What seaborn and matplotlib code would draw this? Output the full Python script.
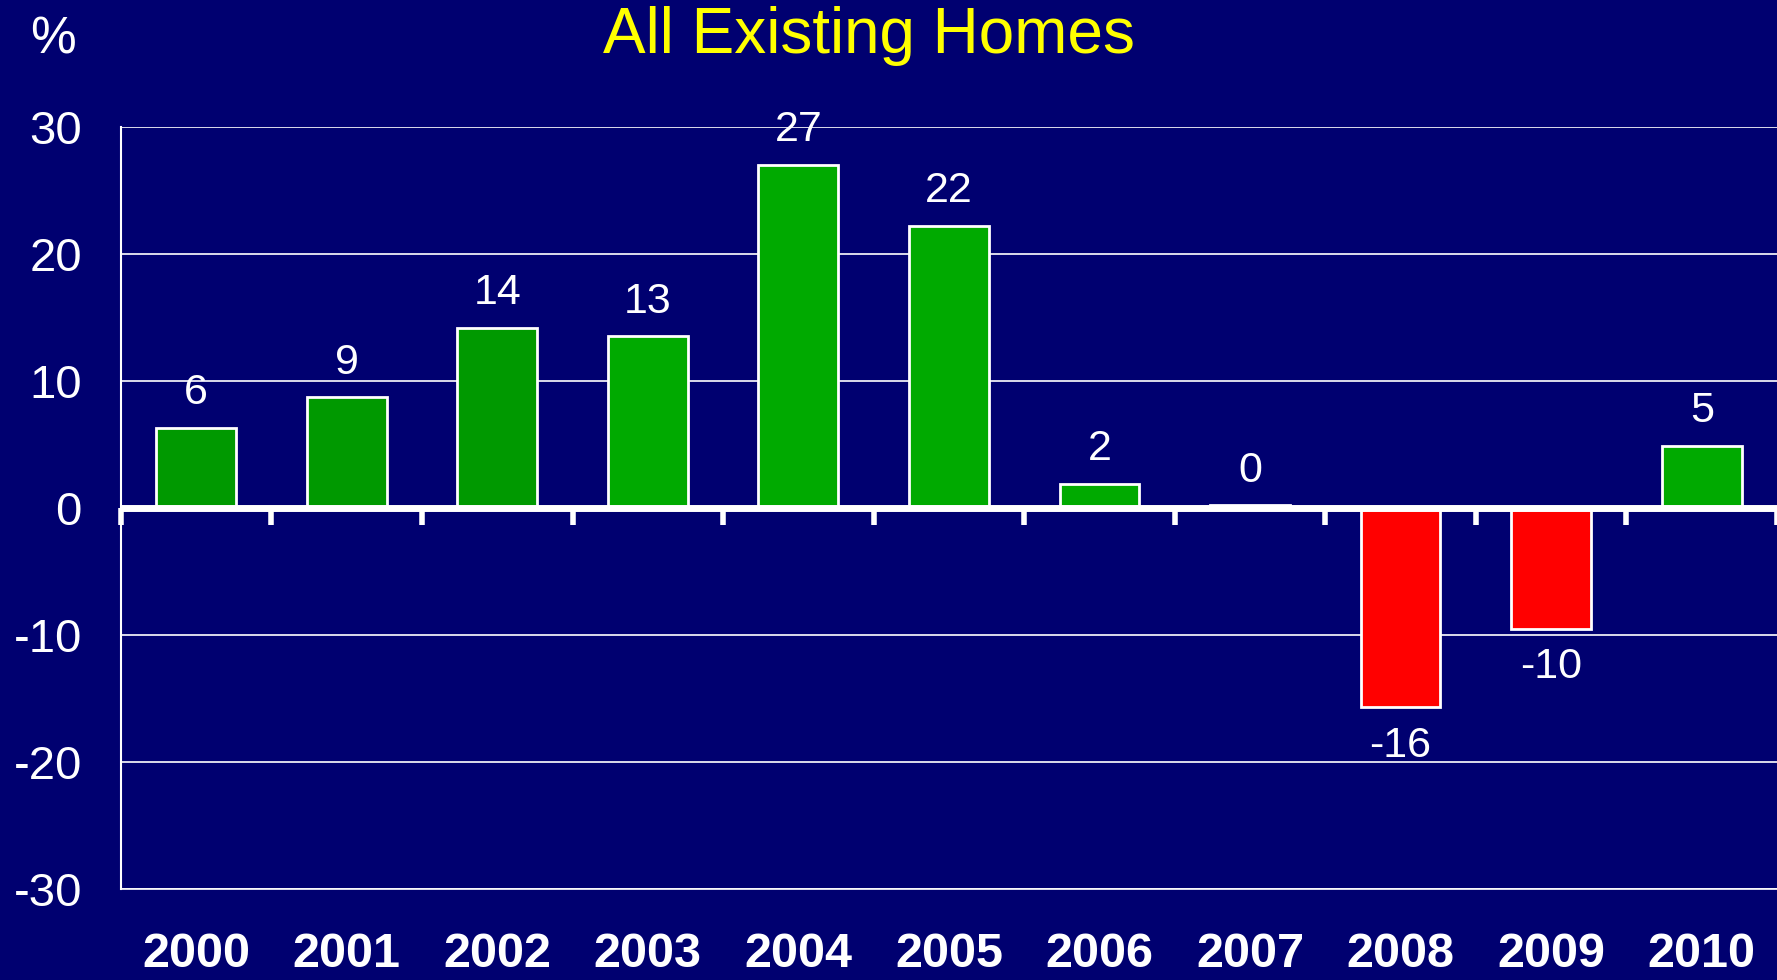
"""
Existing home price change by year, bar chart on a navy slide background.
"""

import matplotlib
matplotlib.use('Agg')
import matplotlib.pyplot as plt
import seaborn as sns
import pandas as pd
import numpy as np

# Data
years = ['2000', '2001', '2002', '2003', '2004', '2005', '2006', '2007', '2008', '2009', '2010']
change = [6.3, 8.7, 14.2, 13.5, 27.0, 22.2, 1.9, 0.2, -15.7, -9.5, 4.9]
labels = ['6', '9', '14', '13', '27', '22', '2', '0', '-16', '-10', '5']
bar_colors = ['#009900', '#009900', '#009900', '#00AA00', '#00AA00', '#00AA00',
              '#00AA00', '#00AA00', '#FF0000', '#FF0000', '#00AA00']
y_ticks = [-30, -20, -10, 0, 10, 20, 30]

BG = '#000070'

sns.set_style("white")
plt.rcParams['font.family'] = ['Liberation Sans', 'DejaVu Sans']

df = pd.DataFrame({'year': years, 'change': change})

fig = plt.figure(figsize=(17.77, 9.8), dpi=100, facecolor=BG)
ax = fig.add_axes([0.068, 0.0929, 0.932, 0.7776])
ax.set_facecolor(BG)

sns.barplot(data=df, x='year', y='change', hue='year', palette=bar_colors,
            legend=False, width=0.53, edgecolor='white', linewidth=2,
            saturation=1, ax=ax, zorder=3)

ax.set_xlim(-0.5, 10.5)
ax.set_ylim(-30, 30)
ax.set_yticks(y_ticks)
ax.set_yticklabels([str(t) for t in y_ticks], fontsize=34, color='white')
ax.yaxis.grid(True, color='white', linewidth=1.2, zorder=0)
ax.set_axisbelow(True)
ax.tick_params(axis='y', direction='out', length=10, width=1.2, color='white', pad=18)

for side in ['top', 'right']:
    ax.spines[side].set_visible(False)
ax.spines['left'].set_color('white')
ax.spines['left'].set_linewidth(1.5)
ax.spines['bottom'].set_color('white')
ax.spines['bottom'].set_linewidth(1.2)

# Year labels below the plot area
ax.set_xlabel('')
ax.set_ylabel('')
ax.tick_params(axis='x', length=0, pad=31)
ax.set_xticks(range(len(years)))
ax.set_xticklabels(years, fontsize=35, fontweight='bold', color='white')

# Zero line with category boundary ticks
ax.axhline(0, color='white', linewidth=5, zorder=4)
sec = ax.secondary_xaxis(0.5)
for s in sec.spines.values():
    s.set_visible(False)
sec.set_xticks(np.arange(-0.5, len(years), 1.0))
sec.tick_params(axis='x', which='both', direction='in', length=12, width=4,
                color='white', labeltop=False, labelbottom=False)

# Value labels
for i, (v, lab) in enumerate(zip(change, labels)):
    off = 25 if v >= 0 else -28
    ax.annotate(lab, (i, v), xytext=(0, off), textcoords='offset points',
                ha='center', va='center', fontsize=31, color='white', zorder=5)

fig.text(0.489, 0.946, 'All Existing Homes', ha='center', va='baseline',
         fontsize=46, color='#FFFF00')
fig.text(0.030, 0.945, '%', ha='center', va='baseline', fontsize=37, color='white')

plt.savefig('out.png', dpi=100, facecolor=BG)
plt.close()
